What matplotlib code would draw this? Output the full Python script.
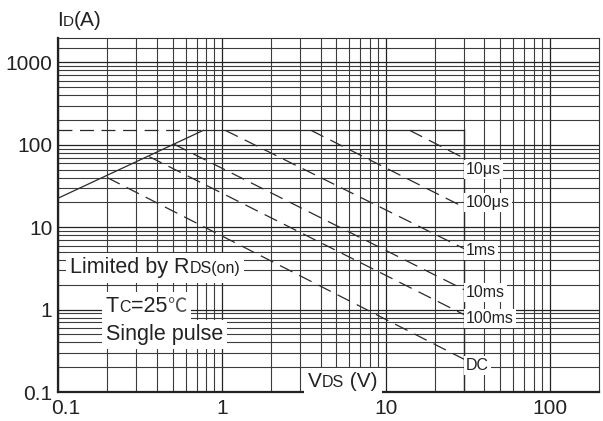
import matplotlib
matplotlib.use("Agg")
import matplotlib.pyplot as plt
from matplotlib.ticker import FixedLocator, FixedFormatter, NullFormatter
from matplotlib.offsetbox import TextArea, HPacker, AnnotationBbox
import matplotlib.transforms as mtransforms

# ---------------- data ----------------
x_ticks = [0.1, 1, 10, 100]
x_tick_labels = ["0.1", "1", "10", "100"]
y_ticks = [0.1, 1, 10, 100, 1000]
y_tick_labels = ["0.1", "1", "10", "100", "1000"]
x_minor = [0.2, 0.3, 0.4, 0.5, 0.6, 0.7, 0.8, 0.9,
           2, 3, 4, 5, 6, 7, 8, 9,
           20, 30, 40, 50, 60, 70, 80, 90]
y_minor = [0.2, 0.3, 0.4, 0.5, 0.6, 0.7, 0.8, 0.9,
           2, 3, 4, 5, 6, 7, 8, 9,
           20, 30, 40, 50, 60, 70, 80, 90,
           200, 300, 400, 500, 600, 700, 800, 900, 1500]
x_limits = [0.1, 200]
y_limits = [0.1, 2000]

rds_v = [0.1, 0.77]          # Limited by RDS(on)
rds_i = [22.5, 150]
id_limit = 150               # pulsed drain current limit
vds_limit = 30               # VDS max

pulse_labels = ["10\u03bcs", "100\u03bcs", "1ms", "10ms", "100ms", "DC"]
pulse_start_v = [14, 3.5, 1.05, 0.51, 0.36, 0.2]
pulse_start_i = [150, 150, 150, 102, 72, 40]
pulse_end_i = [69, 17.5, 5.5, 1.75, 0.87, 0.25]

# layout: vertical shift (pixels, downward) of each pulse label from its line end
label_shift_px = [11, -5, 2, 3, 4, 6]

# ---------------- style ----------------
plt.rcParams["lines.scale_dashes"] = False
FAM = ["Liberation Sans", "Noto Sans CJK SC", "DejaVu Sans"]
CJK = ["Noto Sans CJK SC", "DejaVu Sans"]
plt.rcParams["font.family"] = FAM
TXT = "#222222"
LINE = "#2a2a2a"
DASH = (0, (10, 5.5))

fig = plt.figure(figsize=(6.03, 4.21), dpi=100)
ax = fig.add_axes([58 / 603, 1 - 392 / 421, (599 - 58) / 603, (392 - 37.7) / 421])
ax.set_xscale("log")
ax.set_yscale("log")
ax.set_xlim(*x_limits)
ax.set_ylim(*y_limits)

ax.xaxis.set_major_locator(FixedLocator(x_ticks))
ax.xaxis.set_major_formatter(FixedFormatter(x_tick_labels))
ax.yaxis.set_major_locator(FixedLocator(y_ticks))
ax.yaxis.set_major_formatter(FixedFormatter(y_tick_labels))
ax.xaxis.set_minor_locator(FixedLocator(x_minor))
ax.yaxis.set_minor_locator(FixedLocator(y_minor))
ax.xaxis.set_minor_formatter(NullFormatter())
ax.yaxis.set_minor_formatter(NullFormatter())
ax.tick_params(which="both", length=0)
ax.tick_params(axis="both", labelsize=15, labelcolor=TXT)
ax.tick_params(axis="x", pad=5)
ax.tick_params(axis="y", pad=4)

ax.set_axisbelow(True)
ax.grid(which="major", color="#222222", linewidth=0.9)
ax.grid(which="minor", color="#3c3c3c", linewidth=0.8)

for side in ["left", "bottom"]:
    ax.spines[side].set_linewidth(1.6)
    ax.spines[side].set_color("#222222")
for side in ["top", "right"]:
    ax.spines[side].set_linewidth(0.8)
    ax.spines[side].set_color("#333333")

# ---------------- SOA lines ----------------
ax.plot(rds_v, rds_i, color=LINE, lw=0.9, zorder=3)
ax.plot([x_limits[0], rds_v[-1]], [id_limit, id_limit], color=LINE, lw=0.9,
        linestyle=DASH, zorder=3)
ax.plot([rds_v[-1], vds_limit], [id_limit, id_limit], color=LINE, lw=0.9, zorder=3)
ax.plot([vds_limit, vds_limit], [y_limits[0], id_limit], color=LINE, lw=1.0, zorder=3)

for lab, v0, i0, i1, dy in zip(pulse_labels, pulse_start_v, pulse_start_i,
                               pulse_end_i, label_shift_px):
    ax.plot([v0, vds_limit], [i0, i1], color=LINE, lw=0.9, linestyle=DASH, zorder=3)
    ax.annotate(lab, xy=(vds_limit, i1), xytext=(2, -dy), textcoords="offset pixels",
                fontsize=11.5, color=TXT, ha="left", va="center", zorder=5,
                bbox=dict(boxstyle="square,pad=0.12", facecolor="white", edgecolor="none"))


# ---------------- composite texts ----------------
def composite(parts, xy_px, align=(0, 0), bg=True):
    areas = []
    for p in parts:
        t, fs = p[0], p[1]
        fam = p[2] if len(p) > 2 else FAM
        col = p[3] if len(p) > 3 else TXT
        areas.append(TextArea(t, textprops=dict(fontsize=fs, color=col, family=fam)))
    pack = HPacker(children=areas, align="baseline", pad=0, sep=0)
    ab = AnnotationBbox(pack, (xy_px[0], 421 - xy_px[1]), xycoords="figure pixels",
                        box_alignment=align, frameon=bg, pad=0.15,
                        annotation_clip=False,
                        bboxprops=dict(facecolor="white", edgecolor="none",
                                       boxstyle="square"))
    ab.set_zorder(6)
    fig.add_artist(ab)


composite([("I", 15), ("D", 11), ("(A)", 15)], (57, 30), align=(0, 0), bg=False)
composite([("Limited by R", 15.5), ("DS(on)", 11.5)], (70, 268), align=(0, 0.5))
composite([("T", 15.5), ("C", 11.5), ("=25", 15.5), ("\u2103", 14, CJK, "#555555")],
          (106, 317), align=(0, 0))
composite([("Single pulse", 15.5)], (106, 345), align=(0, 0))
composite([("V", 15), ("DS", 11.5), (" (V)", 15)], (308, 391), align=(0, 0))

# first x tick label sits a little to the right of the axis corner
fig.canvas.draw()
lbl0 = ax.get_xticklabels()[0]
lbl0.set_transform(lbl0.get_transform() +
                   mtransforms.ScaledTranslation(8 / 100, 0, fig.dpi_scale_trans))

fig.savefig("out.png", dpi=100)
